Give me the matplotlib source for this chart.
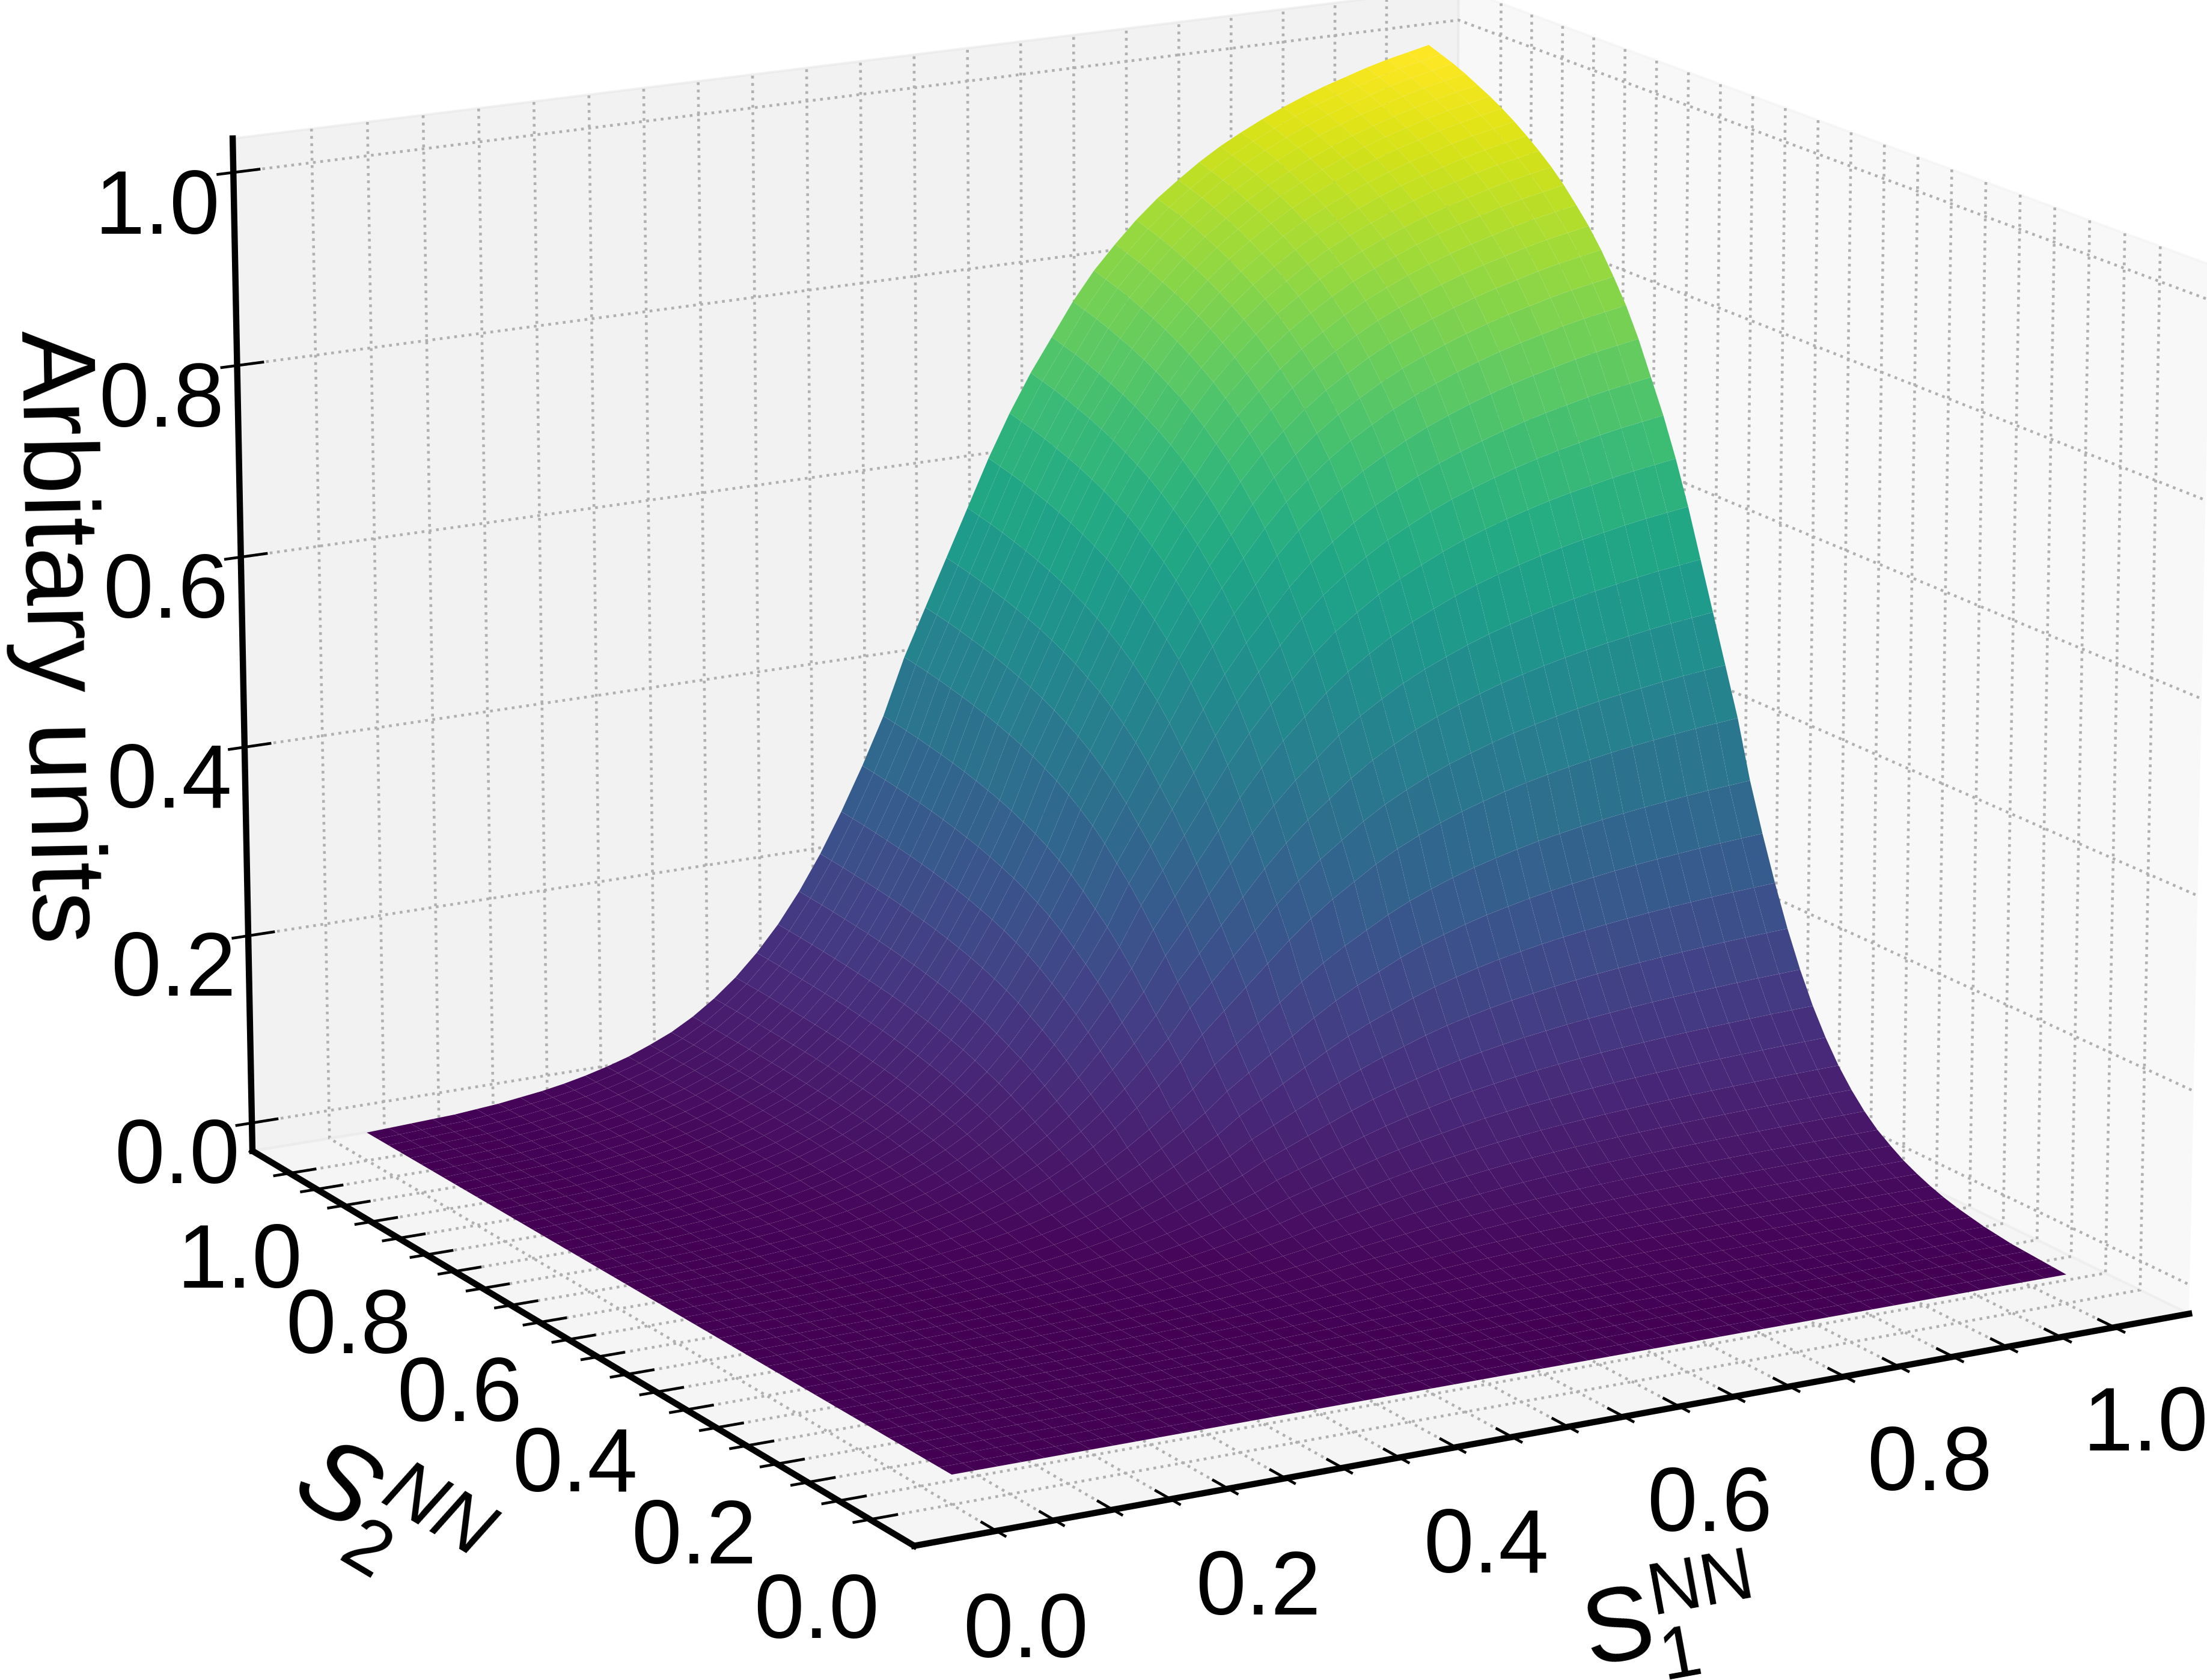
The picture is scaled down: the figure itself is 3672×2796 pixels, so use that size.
import numpy as np
import matplotlib
matplotlib.use('Agg')
import matplotlib.pyplot as plt

plt.rcParams['font.family'] = ['Liberation Sans', 'DejaVu Sans']
plt.rcParams['mathtext.fontset'] = 'custom'
plt.rcParams['mathtext.rm'] = 'Liberation Sans'
plt.rcParams['mathtext.it'] = 'Liberation Sans:italic'

# profile read from the ridge edge of the surface, one value every 0.02
s_grid = [0.00, 0.02, 0.04, 0.06, 0.08, 0.10, 0.12, 0.14, 0.16, 0.18,
          0.20, 0.22, 0.24, 0.26, 0.28, 0.30, 0.32, 0.34, 0.36, 0.38,
          0.40, 0.42, 0.44, 0.46, 0.48, 0.50, 0.52, 0.54, 0.56, 0.58,
          0.60, 0.62, 0.64, 0.66, 0.68, 0.70, 0.72, 0.74, 0.76, 0.78,
          0.80, 0.82, 0.84, 0.86, 0.88, 0.90, 0.92, 0.94, 0.96, 0.98, 1.00]
profile = [0.000, 0.001, 0.002, 0.003, 0.004, 0.006, 0.008, 0.011, 0.014, 0.018,
           0.023, 0.029, 0.036, 0.045, 0.055, 0.068, 0.084, 0.103, 0.126, 0.153,
           0.185, 0.222, 0.264, 0.310, 0.360, 0.420, 0.470, 0.520, 0.570, 0.620,
           0.665, 0.705, 0.740, 0.775, 0.805, 0.830, 0.853, 0.873, 0.890, 0.906,
           0.920, 0.932, 0.943, 0.953, 0.962, 0.970, 0.977, 0.984, 0.990, 0.995, 1.000]
tick_vals = [0.00, 0.05, 0.10, 0.15, 0.20, 0.25, 0.30, 0.35, 0.40, 0.45, 0.50,
             0.55, 0.60, 0.65, 0.70, 0.75, 0.80, 0.85, 0.90, 0.95, 1.00]
tick_labels = ['0.0', '', '', '', '0.2', '', '', '', '0.4', '', '',
               '', '0.6', '', '', '', '0.8', '', '', '', '1.0']
z_ticks = [0.0, 0.2, 0.4, 0.6, 0.8, 1.0]
z_labels = ['0.0', '0.2', '0.4', '0.6', '0.8', '1.0']

s = np.array(s_grid)
p = np.array(profile)
X, Y = np.meshgrid(s, s)
Z = np.outer(p, p)

fig = plt.figure(figsize=(12.24, 9.3233), dpi=300)
ax = fig.add_axes([0.0345, 0.0571, 1, 1], projection='3d')
surf = ax.plot_surface(X, Y, Z, cmap='viridis', linewidth=0, antialiased=True, rstride=1, cstride=1)
surf.set_clip_on(False)  # axes box is square, would cut the corners
ax.view_init(elev=15.5, azim=-119.5)
ax.set_proj_type('persp', focal_length=1.5)
ax.set_box_aspect((1, 1, 0.745), zoom=1.325)

ax.set_xticks(tick_vals)
ax.set_xticklabels(tick_labels)
ax.set_yticks(tick_vals)
ax.set_yticklabels(tick_labels)
ax.set_zticks(z_ticks)
ax.set_zticklabels(z_labels)
ax.set_xlim(-0.07, 1.07)
ax.set_ylim(-0.07, 1.07)
ax.set_zlim(-0.03, 1.035)

ax.set_xlabel(r'$\mathrm{S}_{1}^{\mathrm{NN}}$', fontsize=42, labelpad=25)
ax.set_ylabel(r'$S_{2}^{NN}$', fontsize=44, labelpad=28)
ax.set_zlabel('Arbitary units', fontsize=42, labelpad=14)

for axis in (ax.xaxis, ax.yaxis, ax.zaxis):
    axis.line.set_color('black')
    axis.line.set_linewidth(2.5)
    axis._axinfo['grid'].update(color='#b0b0b0', linestyle=':', linewidth=1.1)
    axis._axinfo['tick'].update(inward_factor=0.15, outward_factor=0.25, linewidth={True: 1.1, False: 1.1})
ax.tick_params(labelsize=36, pad=6)

fig.savefig('out.png', dpi=300)
